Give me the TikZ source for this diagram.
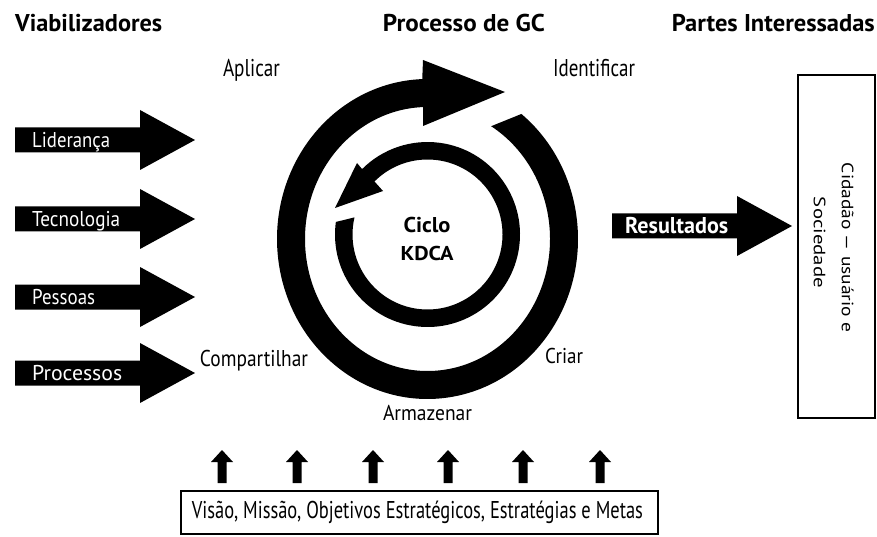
\documentclass[tikz,border=0pt]{standalone}
\usepackage{fontspec}
\setmainfont{PT Sans}
\usetikzlibrary{calc}
% width, cap height, text
\newcommand\fw[3]{\resizebox{#1pt}{#2pt}{\vphantom{X}\smash{#3}}}
\tikzset{
  blk/.style={fill=black, draw=none},
  hdr/.style={font=\bfseries, inner sep=0pt},
  lbl/.style={inner sep=0pt},
  wlbl/.style={text=white, inner sep=0pt, anchor=west},
  frame/.style={draw=black, line width=2pt, inner sep=0pt},
}
\begin{document}
\begin{tikzpicture}[x=1pt,y=1pt]
\useasboundingbox (0,0) rectangle (877,536);
% headers
\node[hdr, anchor=west] (viab) at (15,512.5) {\fw{147}{17}{Viabilizadores}};
\node[hdr] (proc) at (464,512.5) {\fw{162}{17}{Processo de GC}};
\node[hdr, anchor=east] (partes) at (875,512.5) {\fw{203}{17}{Partes Interessadas}};
% left arrows
\foreach \c/\t/\w/\n in {396/Liderança/78/lid, 317/Tecnologia/88/tec, 239/Pessoas/63/pes, 163/Processos/90/pro}{
  \fill[blk] (15,\c+12.5) -- (140,\c+12.5) -- (140,\c+30) -- (195,\c) -- (140,\c-30) -- (140,\c-12.5) -- (15,\c-12.5) -- cycle;
  \node[wlbl] (\n) at (32,\c) {\fw{\w}{15}{\t}};
}
% outer cycle arrow
\fill[blk] ($(427.5,297)+(51.4:150.5 and 160)$)
  arc[start angle=51.4, end angle=-268, x radius=150.5, y radius=160]
  -- (423,476) -- (505,444) -- (423,410)
  -- ($(427.5,297)+(-268:122.5 and 132)$)
  arc[start angle=-268, end angle=58.7, x radius=122.5, y radius=132] -- cycle;
% inner cycle arrow
\fill[blk] ($(427.5,301.5)+(172.2:92.5)$)
  arc[start angle=172.2, end angle=495, radius=92.5]
  -- (357,373) -- (335,328) -- (383,345)
  -- ($(427.5,301.5)+(495:75)$)
  arc[start angle=495, end angle=166.8, radius=75] -- cycle;
\node[hdr] (ciclo) at (427,311.5) {\fw{47}{15}{Ciclo}};
\node[hdr] (kdca) at (427,282.5) {\fw{53}{14}{KDCA}};
% cycle labels
\node[lbl] (apl) at (251.5,467.5) {\fw{57}{17}{Aplicar}};
\node[lbl] (ide) at (594,467.5) {\fw{82}{17}{Identificar}};
\node[lbl] (com) at (254,177.5) {\fw{108}{16}{Compartilhar}};
\node[lbl] (cri) at (564,180.5) {\fw{38}{15}{Criar}};
\node[lbl] (arm) at (427.5,123.5) {\fw{89}{15}{Armazenar}};
% results arrow
\fill[blk] (612,322.5) -- (737,322.5) -- (737,340) -- (792,310) -- (737,280) -- (737,297.5) -- (612,297.5) -- cycle;
\node[hdr, text=white, anchor=west] (res) at (625,311) {\fw{103}{16}{Resultados}};
% stakeholder box
\node[frame, minimum width=77pt, minimum height=343pt] (cid) at (836.5,289.5) {};
\node[lbl, rotate=-90] (cid1) at (847.5,288.5) {\fw{169}{11.5}{Cidadão — usuário e}};
\node[lbl, rotate=-90] (cid2) at (819.5,293.5) {\fw{91}{11.5}{Sociedade}};
% bottom arrows
\foreach \x in {222,297,373,448,523,600}{
  \fill[blk] (\x-4.5,53) -- (\x-4.5,74) -- (\x-11,74) -- (\x,86) -- (\x+11,74) -- (\x+4.5,74) -- (\x+4.5,53) -- cycle;
}
\node[frame, minimum width=477pt, minimum height=43pt] (vis) at (419.5,23.5) {};
\node[lbl] (vist) at (417.5,26) {\fw{451}{17}{Visão, Missão, Objetivos Estratégicos, Estratégias e Metas}};
\end{tikzpicture}
\end{document}
